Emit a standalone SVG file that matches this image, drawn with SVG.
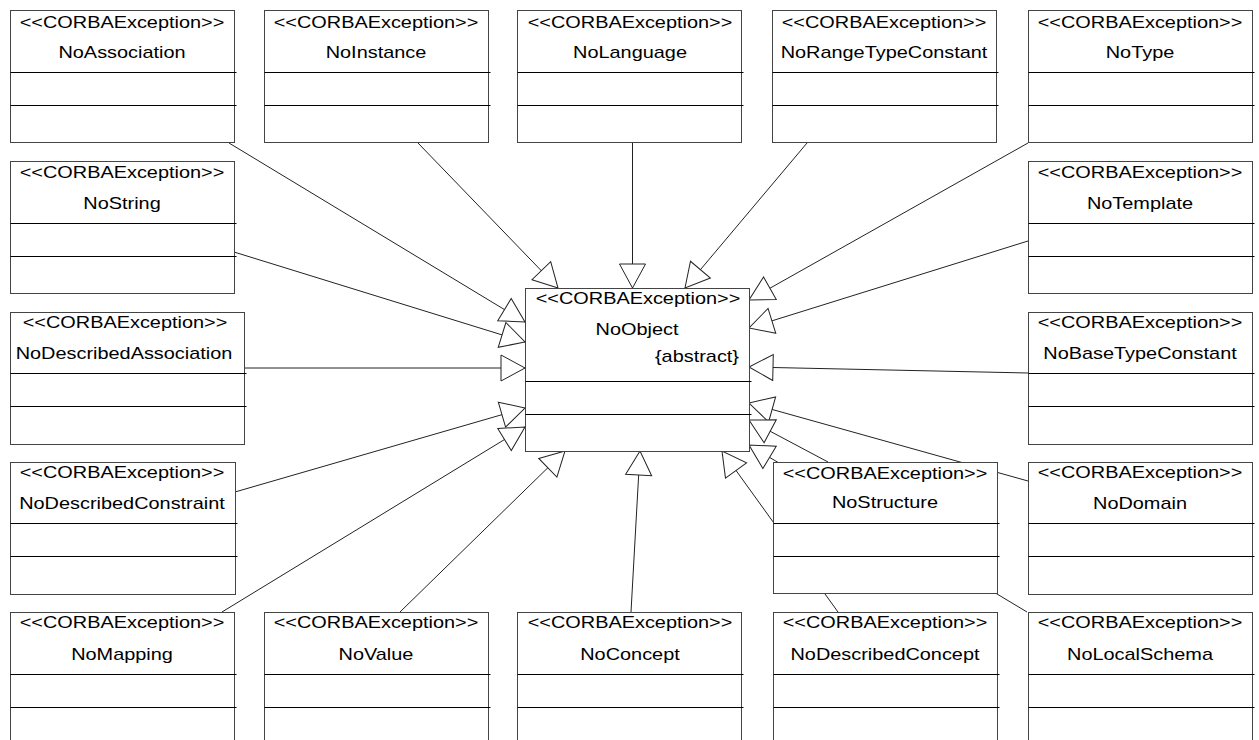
<svg xmlns="http://www.w3.org/2000/svg" width="1259" height="740" viewBox="0 0 1259 740">
<style>
.box{fill:#fff;stroke:#444;stroke-width:1}
.sep{stroke:#000;stroke-width:1}
.t{font-family:"Liberation Sans",Arial,sans-serif;font-size:17px;fill:#000;text-anchor:middle}
.te{font-family:"Liberation Sans",Arial,sans-serif;font-size:17px;fill:#000;text-anchor:end}
.edge{stroke:#222;stroke-width:1;fill:none;marker-end:url(#gen)}
</style>
<defs>
<marker id="gen" markerUnits="userSpaceOnUse" viewBox="-1 -1 26 28" refX="24" refY="13" markerWidth="26" markerHeight="28" orient="auto" overflow="visible">
<path d="M0,0 L24,13 L0,26 Z" fill="#fff" stroke="#222" stroke-width="1"/>
</marker>
</defs>
<g id="connectors">
<line class="edge" x1="229" y1="143" x2="525" y2="322"/>
<line class="edge" x1="418" y1="143" x2="558" y2="288"/>
<line class="edge" x1="632.5" y1="143" x2="632.5" y2="288"/>
<line class="edge" x1="807" y1="143" x2="685" y2="288"/>
<line class="edge" x1="1028" y1="143" x2="749" y2="300"/>
<line class="edge" x1="234" y1="252" x2="525" y2="342"/>
<line class="edge" x1="1028" y1="241" x2="749" y2="328"/>
<line class="edge" x1="244" y1="368" x2="525" y2="368"/>
<line class="edge" x1="1028" y1="373" x2="749" y2="367"/>
<line class="edge" x1="235" y1="492" x2="525" y2="408"/>
<line class="edge" x1="222" y1="612" x2="525" y2="427"/>
<line class="edge" x1="400" y1="612" x2="565" y2="451"/>
<line class="edge" x1="631" y1="612" x2="640" y2="451"/>
<line class="edge" x1="838" y1="612" x2="722" y2="451"/>
<line class="edge" x1="1028" y1="481" x2="749" y2="403"/>
<line class="edge" x1="828" y1="462" x2="749" y2="420"/>
<line class="edge" x1="1027" y1="612" x2="749" y2="445"/>
</g>
<g id="NoObject">
<rect class="box" x="525.5" y="288.5" width="224" height="163"/>
<line class="sep" x1="525.5" y1="381.5" x2="751.5" y2="381.5"/>
<line class="sep" x1="525.5" y1="414.5" x2="751.5" y2="414.5"/>
<text class="t" transform="translate(638,304) scale(1.17,1)">&lt;&lt;CORBAException&gt;&gt;</text>
<text class="t" transform="translate(637,335) scale(1.17,1)">NoObject</text>
<text class="te" transform="translate(739,362) scale(1.17,1)">{abstract}</text>
</g>
<g id="NoAssociation">
<rect class="box" x="10.5" y="10.5" width="224" height="132"/>
<line class="sep" x1="10.5" y1="72.5" x2="236.5" y2="72.5"/>
<line class="sep" x1="10.5" y1="105.5" x2="236.5" y2="105.5"/>
<text class="t" transform="translate(122,28) scale(1.17,1)">&lt;&lt;CORBAException&gt;&gt;</text>
<text class="t" transform="translate(122,58) scale(1.17,1)">NoAssociation</text>
</g>
<g id="NoInstance">
<rect class="box" x="264.5" y="10.5" width="224" height="132"/>
<line class="sep" x1="264.5" y1="72.5" x2="490.5" y2="72.5"/>
<line class="sep" x1="264.5" y1="105.5" x2="490.5" y2="105.5"/>
<text class="t" transform="translate(376,28) scale(1.17,1)">&lt;&lt;CORBAException&gt;&gt;</text>
<text class="t" transform="translate(376,58) scale(1.17,1)">NoInstance</text>
</g>
<g id="NoLanguage">
<rect class="box" x="517.5" y="10.5" width="224" height="132"/>
<line class="sep" x1="517.5" y1="72.5" x2="743.5" y2="72.5"/>
<line class="sep" x1="517.5" y1="105.5" x2="743.5" y2="105.5"/>
<text class="t" transform="translate(630,28) scale(1.17,1)">&lt;&lt;CORBAException&gt;&gt;</text>
<text class="t" transform="translate(630,58) scale(1.17,1)">NoLanguage</text>
</g>
<g id="NoRangeTypeConstant">
<rect class="box" x="772.5" y="10.5" width="224" height="132"/>
<line class="sep" x1="772.5" y1="72.5" x2="998.5" y2="72.5"/>
<line class="sep" x1="772.5" y1="105.5" x2="998.5" y2="105.5"/>
<text class="t" transform="translate(884,28) scale(1.17,1)">&lt;&lt;CORBAException&gt;&gt;</text>
<text class="t" transform="translate(884,58) scale(1.17,1)">NoRangeTypeConstant</text>
</g>
<g id="NoType">
<rect class="box" x="1028.5" y="10.5" width="224" height="132"/>
<line class="sep" x1="1028.5" y1="72.5" x2="1254.5" y2="72.5"/>
<line class="sep" x1="1028.5" y1="105.5" x2="1254.5" y2="105.5"/>
<text class="t" transform="translate(1140,28) scale(1.17,1)">&lt;&lt;CORBAException&gt;&gt;</text>
<text class="t" transform="translate(1140,58) scale(1.17,1)">NoType</text>
</g>
<g id="NoString">
<rect class="box" x="10.5" y="161.5" width="224" height="132"/>
<line class="sep" x1="10.5" y1="223.5" x2="236.5" y2="223.5"/>
<line class="sep" x1="10.5" y1="256.5" x2="236.5" y2="256.5"/>
<text class="t" transform="translate(122,178) scale(1.17,1)">&lt;&lt;CORBAException&gt;&gt;</text>
<text class="t" transform="translate(122,209) scale(1.17,1)">NoString</text>
</g>
<g id="NoTemplate">
<rect class="box" x="1028.5" y="161.5" width="224" height="132"/>
<line class="sep" x1="1028.5" y1="223.5" x2="1254.5" y2="223.5"/>
<line class="sep" x1="1028.5" y1="256.5" x2="1254.5" y2="256.5"/>
<text class="t" transform="translate(1140,178) scale(1.17,1)">&lt;&lt;CORBAException&gt;&gt;</text>
<text class="t" transform="translate(1140,209) scale(1.17,1)">NoTemplate</text>
</g>
<g id="NoDescribedAssociation">
<rect class="box" x="10.5" y="312.5" width="234" height="132"/>
<line class="sep" x1="10.5" y1="373.5" x2="246.5" y2="373.5"/>
<line class="sep" x1="10.5" y1="406.5" x2="246.5" y2="406.5"/>
<text class="t" transform="translate(125,328) scale(1.17,1)">&lt;&lt;CORBAException&gt;&gt;</text>
<text class="t" transform="translate(124,359) scale(1.17,1)">NoDescribedAssociation</text>
</g>
<g id="NoBaseTypeConstant">
<rect class="box" x="1028.5" y="312.5" width="224" height="132"/>
<line class="sep" x1="1028.5" y1="373.5" x2="1254.5" y2="373.5"/>
<line class="sep" x1="1028.5" y1="406.5" x2="1254.5" y2="406.5"/>
<text class="t" transform="translate(1140,328) scale(1.17,1)">&lt;&lt;CORBAException&gt;&gt;</text>
<text class="t" transform="translate(1140,359) scale(1.17,1)">NoBaseTypeConstant</text>
</g>
<g id="NoDescribedConstraint">
<rect class="box" x="10.5" y="462.5" width="225" height="132"/>
<line class="sep" x1="10.5" y1="523.5" x2="237.5" y2="523.5"/>
<line class="sep" x1="10.5" y1="556.5" x2="237.5" y2="556.5"/>
<text class="t" transform="translate(122,478) scale(1.17,1)">&lt;&lt;CORBAException&gt;&gt;</text>
<text class="t" transform="translate(122,509) scale(1.17,1)">NoDescribedConstraint</text>
</g>
<g id="NoStructure">
<rect class="box" x="773.5" y="462.5" width="224" height="131"/>
<line class="sep" x1="773.5" y1="523.5" x2="999.5" y2="523.5"/>
<line class="sep" x1="773.5" y1="556.5" x2="999.5" y2="556.5"/>
<text class="t" transform="translate(885,479) scale(1.17,1)">&lt;&lt;CORBAException&gt;&gt;</text>
<text class="t" transform="translate(885,508) scale(1.17,1)">NoStructure</text>
</g>
<g id="NoDomain">
<rect class="box" x="1028.5" y="462.5" width="224" height="132"/>
<line class="sep" x1="1028.5" y1="523.5" x2="1254.5" y2="523.5"/>
<line class="sep" x1="1028.5" y1="556.5" x2="1254.5" y2="556.5"/>
<text class="t" transform="translate(1140,478) scale(1.17,1)">&lt;&lt;CORBAException&gt;&gt;</text>
<text class="t" transform="translate(1140,509) scale(1.17,1)">NoDomain</text>
</g>
<g id="NoMapping">
<rect class="box" x="10.5" y="612.5" width="224" height="140"/>
<line class="sep" x1="10.5" y1="674.5" x2="236.5" y2="674.5"/>
<line class="sep" x1="10.5" y1="707.5" x2="236.5" y2="707.5"/>
<text class="t" transform="translate(122,628) scale(1.17,1)">&lt;&lt;CORBAException&gt;&gt;</text>
<text class="t" transform="translate(122,660) scale(1.17,1)">NoMapping</text>
</g>
<g id="NoValue">
<rect class="box" x="264.5" y="612.5" width="224" height="140"/>
<line class="sep" x1="264.5" y1="674.5" x2="490.5" y2="674.5"/>
<line class="sep" x1="264.5" y1="707.5" x2="490.5" y2="707.5"/>
<text class="t" transform="translate(376,628) scale(1.17,1)">&lt;&lt;CORBAException&gt;&gt;</text>
<text class="t" transform="translate(376,660) scale(1.17,1)">NoValue</text>
</g>
<g id="NoConcept">
<rect class="box" x="517.5" y="612.5" width="224" height="140"/>
<line class="sep" x1="517.5" y1="674.5" x2="743.5" y2="674.5"/>
<line class="sep" x1="517.5" y1="707.5" x2="743.5" y2="707.5"/>
<text class="t" transform="translate(630,628) scale(1.17,1)">&lt;&lt;CORBAException&gt;&gt;</text>
<text class="t" transform="translate(630,660) scale(1.17,1)">NoConcept</text>
</g>
<g id="NoDescribedConcept">
<rect class="box" x="773.5" y="612.5" width="224" height="140"/>
<line class="sep" x1="773.5" y1="674.5" x2="999.5" y2="674.5"/>
<line class="sep" x1="773.5" y1="707.5" x2="999.5" y2="707.5"/>
<text class="t" transform="translate(885,628) scale(1.17,1)">&lt;&lt;CORBAException&gt;&gt;</text>
<text class="t" transform="translate(885,660) scale(1.17,1)">NoDescribedConcept</text>
</g>
<g id="NoLocalSchema">
<rect class="box" x="1028.5" y="612.5" width="224" height="140"/>
<line class="sep" x1="1028.5" y1="674.5" x2="1254.5" y2="674.5"/>
<line class="sep" x1="1028.5" y1="707.5" x2="1254.5" y2="707.5"/>
<text class="t" transform="translate(1140,628) scale(1.17,1)">&lt;&lt;CORBAException&gt;&gt;</text>
<text class="t" transform="translate(1140,660) scale(1.17,1)">NoLocalSchema</text>
</g>
</svg>
